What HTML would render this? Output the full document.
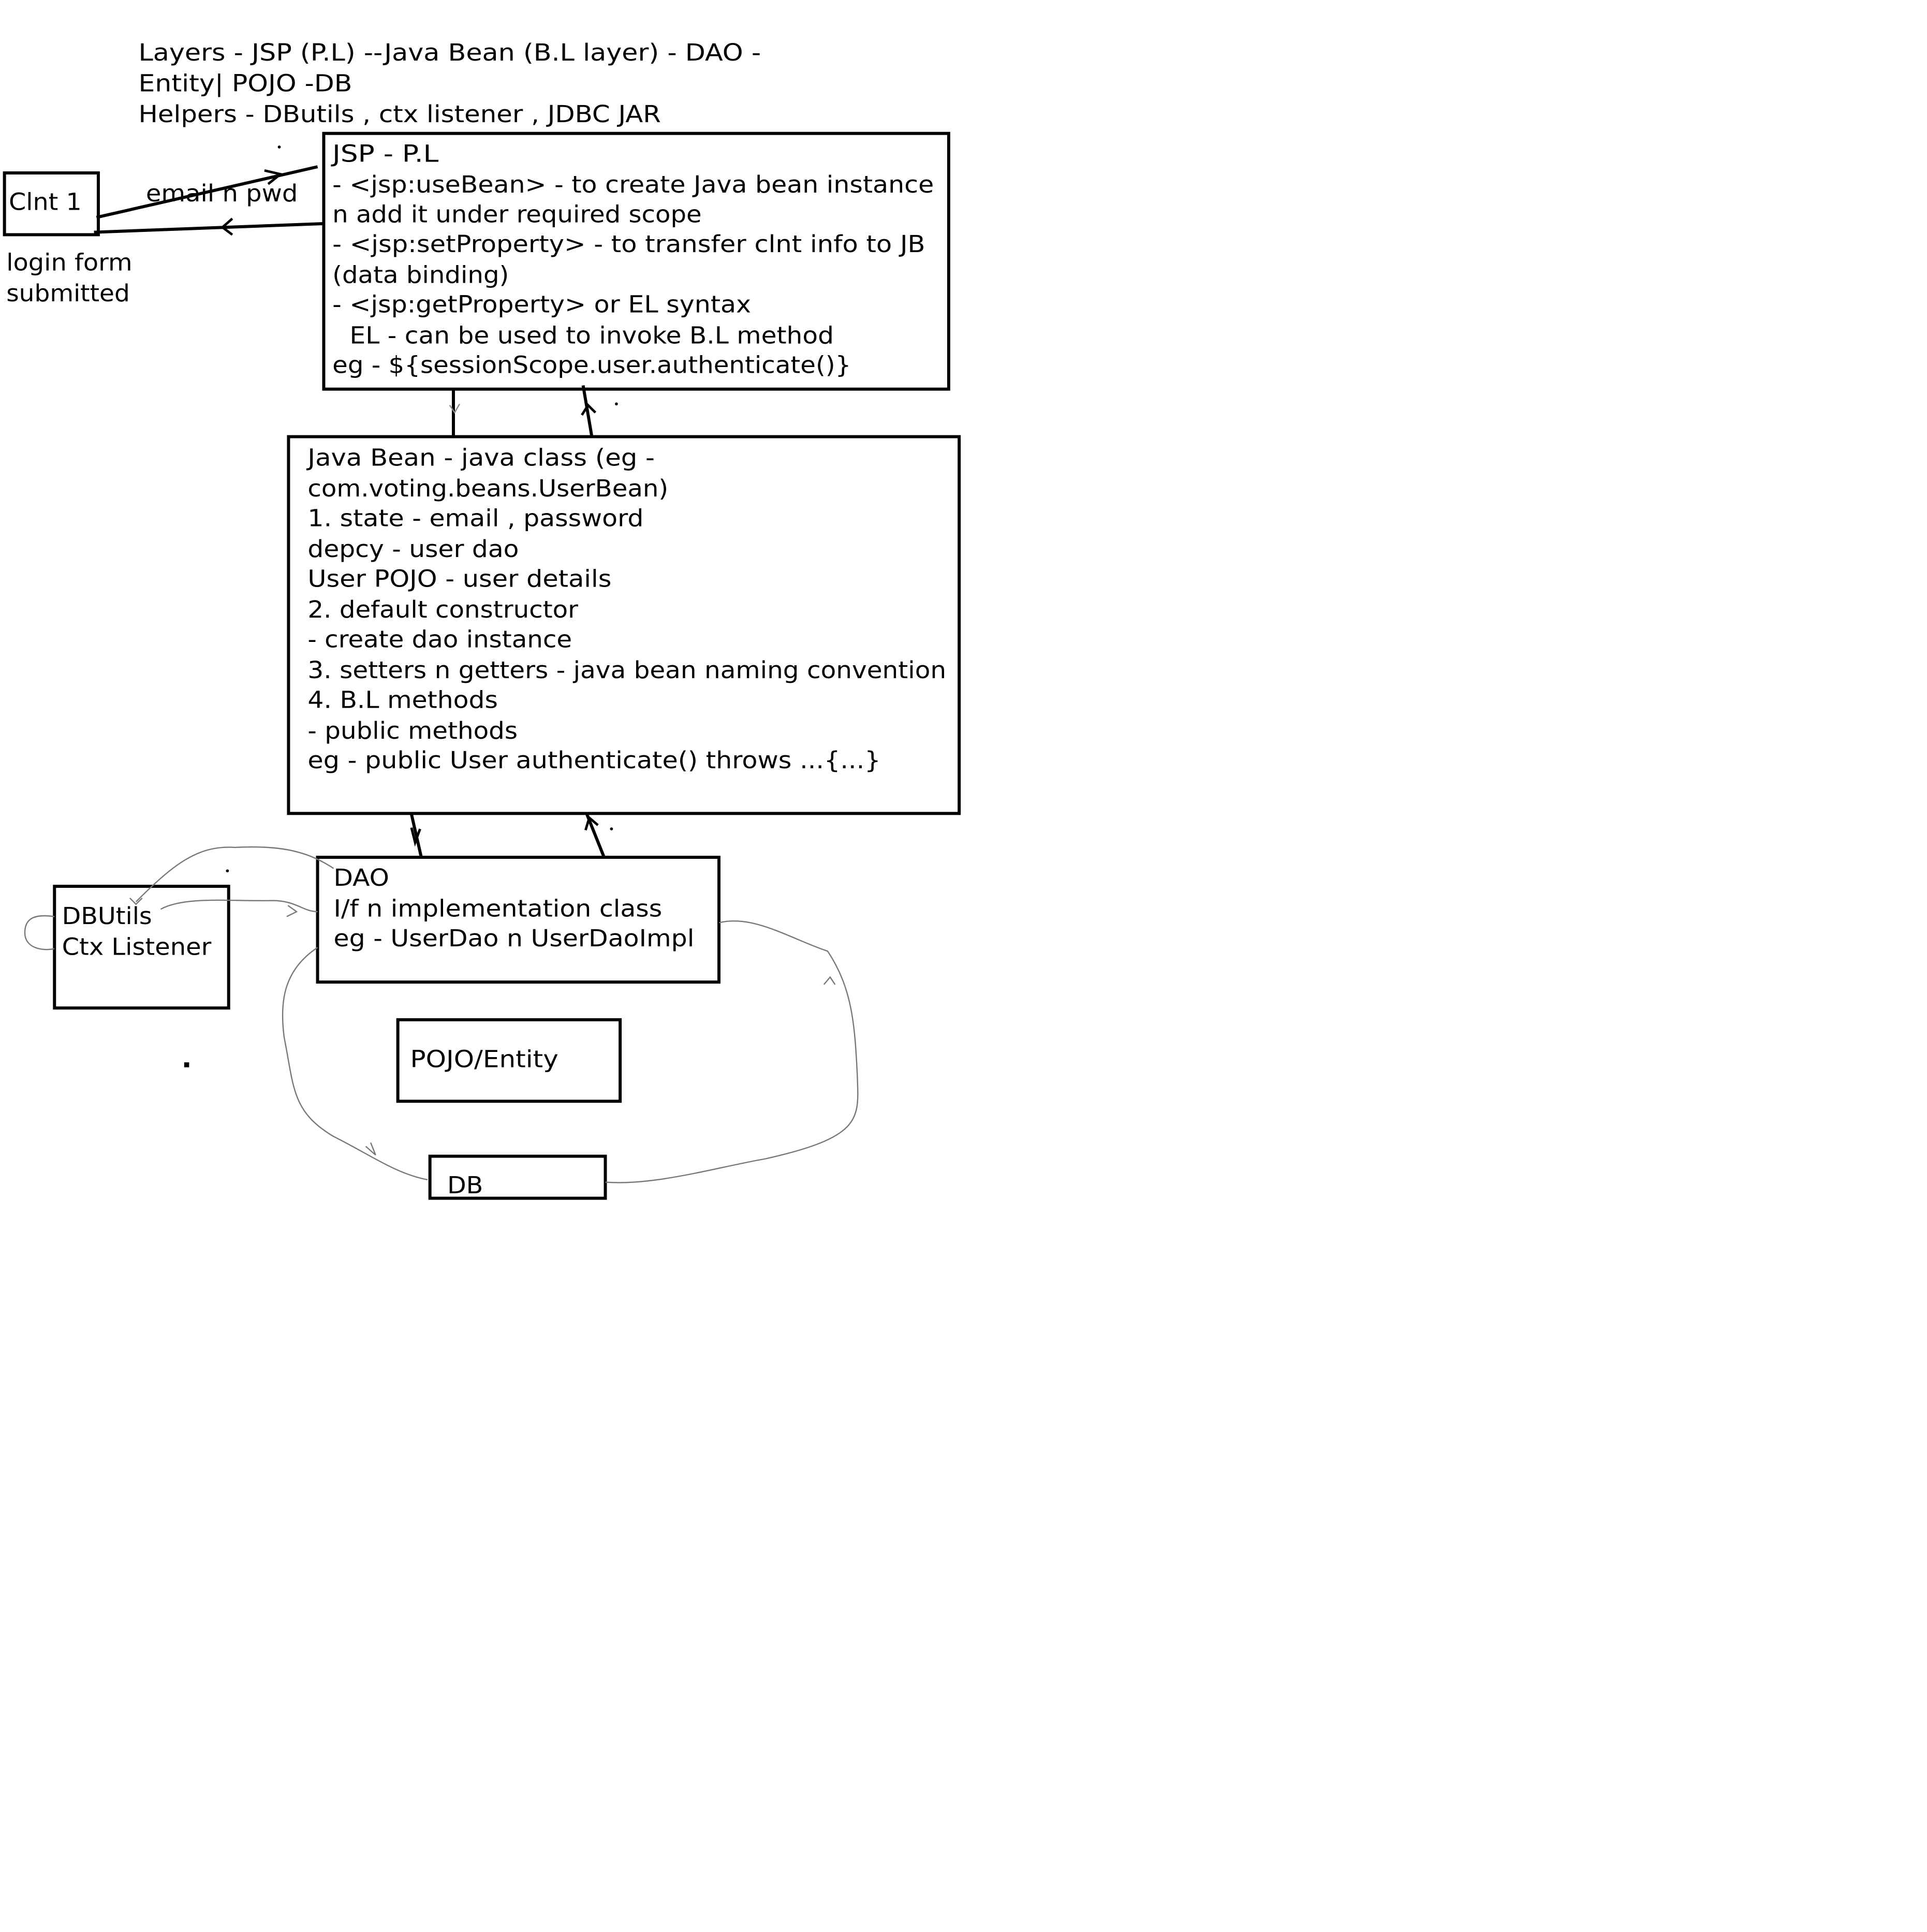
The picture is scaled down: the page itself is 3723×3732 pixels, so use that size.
<!DOCTYPE html>
<html><head><meta charset="utf-8"><style>
html,body{margin:0;padding:0;background:#fff;}
svg{display:block;}
text{font-family:"DejaVu Sans","Liberation Sans",sans-serif;font-size:19px;fill:#000;}
</style></head><body>
<svg width="3723" height="3732" viewBox="0 0 1560 1564" xmlns="http://www.w3.org/2000/svg">
<rect width="1560" height="1564" fill="#fff"/>
<g lengthAdjust="spacingAndGlyphs">
<text x="112" y="49" textLength="504" lengthAdjust="spacingAndGlyphs">Layers - JSP (P.L) --Java Bean (B.L layer) - DAO -</text>
<text x="112" y="74" textLength="173" lengthAdjust="spacingAndGlyphs">Entity| POJO -DB</text>
<text x="112" y="99" textLength="423" lengthAdjust="spacingAndGlyphs">Helpers - DButils , ctx listener , JDBC JAR</text>
</g>
<g fill="none" stroke="#000" stroke-width="2.5">
<rect x="3.5" y="140" width="76" height="50"/>
<rect x="262" y="108" width="506" height="207"/>
<rect x="233.5" y="353.5" width="543" height="305"/>
<rect x="257" y="694" width="325" height="101"/>
<rect x="44" y="717.5" width="141" height="98.5"/>
<rect x="322" y="825.5" width="180" height="66"/>
<rect x="348" y="936" width="142" height="34"/>
<line x1="78" y1="176" x2="257" y2="135"/>
<polyline points="214,138 227,141 217,149" stroke-width="2"/>
<line x1="76" y1="188" x2="263" y2="181"/>
<polyline points="188,177 180,184 188,190" stroke-width="2"/>
<line x1="367" y1="315" x2="367" y2="353"/>
<line x1="472" y1="312" x2="479" y2="353"/>
<polyline points="471,336 476,328 482,334" stroke-width="2"/>
<line x1="333" y1="659" x2="341" y2="694"/>
<polyline points="333,670 336,682 340,671" stroke-width="2"/>
<line x1="489" y1="694" x2="475" y2="659"/>
<polyline points="474,672 477,662 484,668" stroke-width="2"/>
</g>
<polyline points="364,328 368,334 372,327" fill="none" stroke="#888" stroke-width="1"/>
<g fill="none" stroke="#777" stroke-width="1">
<path d="M270,703 C250,690 230,684 190,686 C160,684 140,700 110,730"/>
<path d="M105,727 L110,732 L115,727"/>
<path d="M130,736 C150,725 190,730 220,729 C240,729 245,738 257,738"/>
<path d="M233,733 L240,738 L232,742"/>
<path d="M44,742 C30,740 20,742 20,755 C20,768 35,770 44,768"/>
<path d="M257,767 C230,785 226,810 230,840 C238,880 236,900 270,920 C300,935 320,950 346,955"/>
<path d="M296,928 L304,935 L300,925"/>
<path d="M490,957 C530,960 580,945 620,938 C700,920 695,905 694,870 C692,830 690,800 670,770 C640,760 610,740 582,747"/>
<path d="M667,797 L672,791 L676,797"/>
</g>
<g fill="#000">
<circle cx="226" cy="119" r="1.2"/><circle cx="499" cy="327" r="1.2"/><circle cx="495" cy="671" r="1.2"/><circle cx="184" cy="705" r="1.2"/><rect x="149" y="860" width="4" height="4"/>
</g>
<g>
<text x="7" y="170" textLength="59" lengthAdjust="spacingAndGlyphs">Clnt 1</text>
<text x="5" y="219" textLength="102" lengthAdjust="spacingAndGlyphs">login form</text>
<text x="5" y="244" textLength="100" lengthAdjust="spacingAndGlyphs">submitted</text>
<text x="118" y="163" textLength="123" lengthAdjust="spacingAndGlyphs">email n pwd</text>
<text x="269" y="131" textLength="86" lengthAdjust="spacingAndGlyphs">JSP - P.L</text>
<text x="269" y="156" textLength="487" lengthAdjust="spacingAndGlyphs">- &lt;jsp:useBean&gt; - to create Java bean instance</text>
<text x="269" y="180" textLength="299" lengthAdjust="spacingAndGlyphs">n add it under required scope</text>
<text x="269" y="204" textLength="480" lengthAdjust="spacingAndGlyphs">- &lt;jsp:setProperty&gt; - to transfer clnt info to JB</text>
<text x="269" y="229" textLength="143" lengthAdjust="spacingAndGlyphs">(data binding)</text>
<text x="269" y="253" textLength="339" lengthAdjust="spacingAndGlyphs">- &lt;jsp:getProperty&gt; or EL syntax</text>
<text x="283" y="278" textLength="392" lengthAdjust="spacingAndGlyphs">EL - can be used to invoke B.L method</text>
<text x="269" y="302" textLength="420" lengthAdjust="spacingAndGlyphs">eg - ${sessionScope.user.authenticate()}</text>
<text x="249" y="377" textLength="281" lengthAdjust="spacingAndGlyphs">Java Bean - java class (eg -</text>
<text x="249" y="402" textLength="292" lengthAdjust="spacingAndGlyphs">com.voting.beans.UserBean)</text>
<text x="249" y="426" textLength="272" lengthAdjust="spacingAndGlyphs">1. state - email , password</text>
<text x="249" y="451" textLength="171" lengthAdjust="spacingAndGlyphs">depcy - user dao</text>
<text x="249" y="475" textLength="246" lengthAdjust="spacingAndGlyphs">User POJO - user details</text>
<text x="249" y="500" textLength="219" lengthAdjust="spacingAndGlyphs">2. default constructor</text>
<text x="249" y="524" textLength="214" lengthAdjust="spacingAndGlyphs">- create dao instance</text>
<text x="249" y="549" textLength="517" lengthAdjust="spacingAndGlyphs">3. setters n getters - java bean naming convention</text>
<text x="249" y="573" textLength="154" lengthAdjust="spacingAndGlyphs">4. B.L methods</text>
<text x="249" y="598" textLength="170" lengthAdjust="spacingAndGlyphs">- public methods</text>
<text x="249" y="622" textLength="464" lengthAdjust="spacingAndGlyphs">eg - public User authenticate() throws ...{...}</text>
<text x="270" y="717" textLength="45" lengthAdjust="spacingAndGlyphs">DAO</text>
<text x="270" y="742" textLength="266" lengthAdjust="spacingAndGlyphs">I/f n implementation class</text>
<text x="270" y="766" textLength="292" lengthAdjust="spacingAndGlyphs">eg - UserDao n UserDaoImpl</text>
<text x="50" y="748" textLength="73" lengthAdjust="spacingAndGlyphs">DBUtils</text>
<text x="50" y="773" textLength="121" lengthAdjust="spacingAndGlyphs">Ctx Listener</text>
<text x="332" y="864" textLength="120" lengthAdjust="spacingAndGlyphs">POJO/Entity</text>
<text x="362" y="966" textLength="29" lengthAdjust="spacingAndGlyphs">DB</text>
</g>
</svg>
</body></html>
